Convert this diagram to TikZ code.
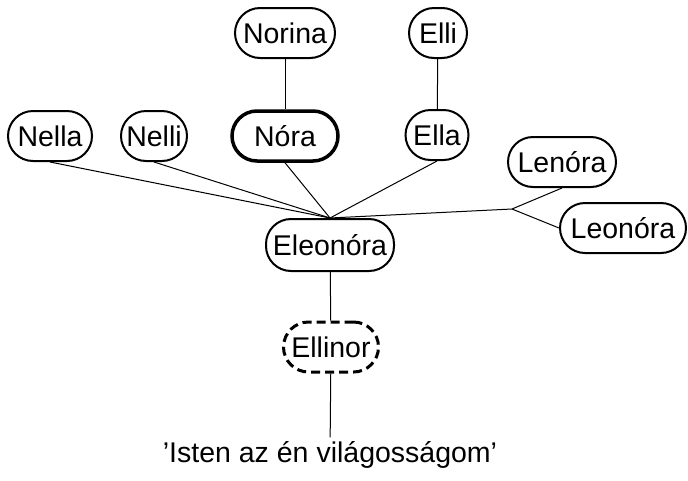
\documentclass[tikz,border=0pt]{standalone}
\usepackage{fontspec}
\setmainfont{Liberation Sans}
\usetikzlibrary{positioning}

\begin{document}
\begin{tikzpicture}[x=1pt, y=-1pt,
    nm/.style={draw, line width=2pt, rounded corners=25pt, minimum height=50pt, minimum width=#1, inner xsep=4pt, font=\fontsize{28.5}{34}\selectfont},
    link/.style={line width=1pt}
]
\useasboundingbox (0,0) rectangle (688,480);
% Top row
\node[nm=100pt] (norina) at (285,33) {Norina};
\node[nm=58pt] (elli) at (438,33) {Elli};

% Second row
\node[nm=84pt] (nella) at (50,136) {Nella};
\node[nm=66pt] (nelli) at (154,136) {Nelli};
\node[nm=106pt, line width=3.5pt] (nora) at (285,136) {Nóra};
\node[nm=63pt] (ella) at (437,135) {Ella};

% Right side
\node[nm=108pt] (lenora) at (562,162) {Lenóra};
\node[nm=126pt] (leonora) at (623,228) {Leonóra};
\coordinate (fork) at (512,209);

% Centre and below
\node[nm=128pt, minimum height=52pt] (eleonora) at (330,245) {Eleonóra};
\node[nm=95pt, line width=3pt, dash pattern=on 9pt off 5pt] (ellinor) at (331,347) {Ellinor};
\node[font=\fontsize{28.5}{34}\selectfont, inner sep=4pt] (meaning) at (330,455) {'Isten az én világosságom'};

\draw[link] (norina) -- (nora);
\draw[link] (elli) -- (ella);
\draw[link] (nella.south) -- (eleonora.north);
\draw[link] (nelli.south) -- (eleonora.north);
\draw[link] (nora.south) -- (eleonora.north);
\draw[link] (ella.south) -- (eleonora.north);
\draw[link] (eleonora.north) -- (fork);
\draw[link] (fork) -- (lenora.south);
\draw[link] (fork) -- (leonora.west);
\draw[link] (eleonora) -- (ellinor);
\draw[link] (ellinor) -- (meaning);
\end{tikzpicture}
\end{document}
